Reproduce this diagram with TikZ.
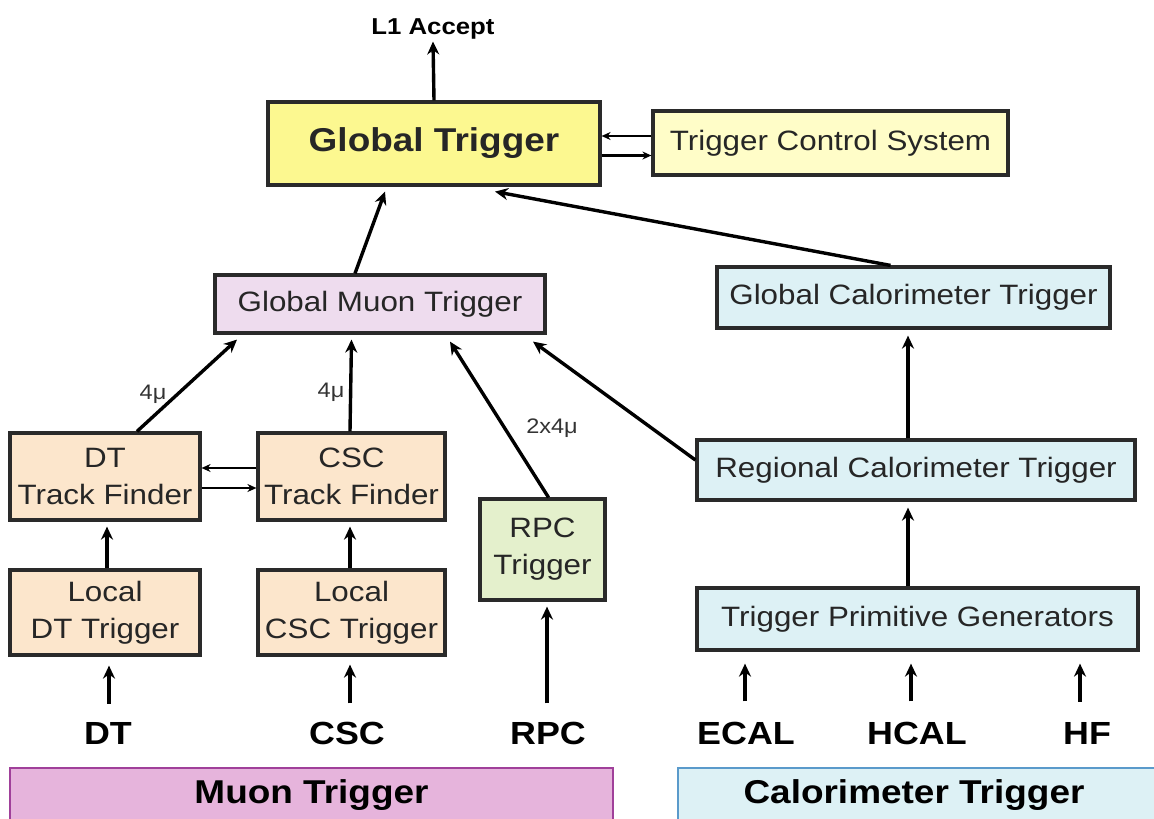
\documentclass[tikz,border=0pt]{standalone}
\usepackage{fontspec}
\setmainfont{Liberation Sans}[FakeStretch=1.12]
\usetikzlibrary{arrows.meta}
\definecolor{boxline}{HTML}{2A2A2A}
\definecolor{gtfill}{HTML}{FCF890}
\definecolor{tcsfill}{HTML}{FFFDC8}
\definecolor{gmtfill}{HTML}{EEDCEE}
\definecolor{calofill}{HTML}{DDF1F5}
\definecolor{dtfill}{HTML}{FCE6CC}
\definecolor{rpcfill}{HTML}{E4F0CC}
\definecolor{muonbar}{HTML}{E6B4DC}
\definecolor{muonedge}{HTML}{A0409A}
\definecolor{caloedge}{HTML}{5A9ACB}
\begin{document}
\begin{tikzpicture}[x=1pt,y=-1pt,
  box/.style={draw=boxline, line width=3.2pt, inner sep=0pt, align=center,
    font=\fontsize{28}{37}\selectfont, text=black!85},
  big/.style={inner sep=0pt, font=\bfseries\fontsize{32}{38}\selectfont},
  lbl/.style={inner sep=0pt, font=\fontsize{21}{24}\selectfont, text=black!80},
  arr/.style={line width=3.4pt, draw=black, -{Stealth[length=13pt,width=12pt]}},
  sarr/.style={line width=2.2pt, draw=black, -{Stealth[length=9pt,width=8pt]}}]
\useasboundingbox (0,0) rectangle (1154,819);
\fill[white] (0,0) rectangle (1154,819);

% boxes
\node[box, fill=gtfill, minimum width=332pt, minimum height=83pt,
  font=\bfseries\fontsize{33}{38}\selectfont] (gt) at (434,143.5) {Global Trigger};
\node[box, fill=tcsfill, minimum width=355pt, minimum height=64pt] (tcs) at (830.5,143) {Trigger Control System};
\node[box, fill=gmtfill, minimum width=330pt, minimum height=58pt] (gmt) at (380,304) {Global Muon Trigger};
\node[box, fill=calofill, minimum width=393pt, minimum height=61pt] (gct) at (913.5,297.5) {Global Calorimeter Trigger};
\node[box, fill=dtfill, minimum width=190pt, minimum height=87pt] (dttf) at (105,476.5) {DT\\Track Finder};
\node[box, fill=dtfill, minimum width=187pt, minimum height=87pt] (csctf) at (351.5,476.5) {CSC\\Track Finder};
\node[box, fill=rpcfill, minimum width=125pt, minimum height=101pt] (rpc) at (542.5,549.5) {RPC\\Trigger};
\node[box, fill=calofill, minimum width=438pt, minimum height=60pt] (rct) at (916,470) {Regional Calorimeter Trigger};
\node[box, fill=calofill, minimum width=441pt, minimum height=62pt] (tpg) at (917.5,619) {Trigger Primitive Generators};
\node[box, fill=dtfill, minimum width=190pt, minimum height=85pt] (ldt) at (105,612.5) {Local\\DT Trigger};
\node[box, fill=dtfill, minimum width=187pt, minimum height=85pt] (lcsc) at (351.5,612.5) {Local\\CSC Trigger};

% bottom bars
\node[draw=muonedge, fill=muonbar, line width=2.5pt, minimum width=603pt, minimum height=54pt,
  inner sep=0pt, font=\bfseries\fontsize{33}{38}\selectfont] (muon) at (311.5,795) {Muon Trigger};
\node[draw=caloedge, fill=calofill, line width=2.5pt, minimum width=482pt, minimum height=54pt,
  inner sep=0pt, font=\bfseries\fontsize{33}{38}\selectfont] (calo) at (919,795) {\hspace*{-10pt}Calorimeter Trigger};

% labels
\node[big, font=\bfseries\fontsize{23}{26}\selectfont] (l1) at (433,29) {L1 Accept};
\node[big] (dt) at (108,733) {DT};
\node[big] (csc) at (347,733) {CSC};
\node[big] (rpcl) at (548,733) {RPC};
\node[big] (ecal) at (746,733) {ECAL};
\node[big] (hcal) at (917,733) {HCAL};
\node[big] (hf) at (1087,733) {HF};

\node[lbl] (m1) at (153,394) {4μ};
\node[lbl] (m2) at (331,392) {4μ};
\node[lbl] (m3) at (552,428) {2x4μ};

% connectors
\draw[arr] (gt.north) -- ([yshift=-2pt]l1.south);
\draw[sarr] ([yshift=7pt]tcs.west) -- ([yshift=7pt]tcs.west -| gt.east);
\draw[sarr] ([yshift=-12pt]gt.east) -- ([yshift=-12pt]gt.east -| tcs.west);
\draw[arr] ([xshift=-25pt]gmt.north) -- ([xshift=-49pt,yshift=-5pt]gt.south);
\draw[arr] ([xshift=-23pt]gct.north) -- ([xshift=61pt,yshift=-5pt]gt.south);
\draw[arr] ([xshift=32pt]dttf.north) -- ([xshift=-143pt,yshift=-5pt]gmt.south);
\draw[arr] ([xshift=-1.5pt]csctf.north) -- ([yshift=-5pt]csctf.north |- gmt.south);
\draw[arr] ([xshift=6pt]rpc.north) -- ([xshift=70pt,yshift=-7pt]gmt.south);
\draw[arr] ([yshift=10pt]rct.west) -- ([xshift=153pt,yshift=-7pt]gmt.south);
\draw[sarr] ([yshift=8.5pt]csctf.west) -- ([yshift=8.5pt]csctf.west -| dttf.east);
\draw[sarr] ([yshift=-11.5pt]dttf.east) -- ([yshift=-11.5pt]dttf.east -| csctf.west);
\draw[arr] ([xshift=2pt]ldt.north) -- ([xshift=2pt,yshift=-5pt]ldt.north |- dttf.south);
\draw[arr] ([xshift=-1.5pt]lcsc.north) -- ([xshift=-1.5pt,yshift=-5pt]lcsc.north |- csctf.south);
\draw[arr] ([xshift=-8pt]rct.north) -- ([xshift=-8pt,yshift=-6pt]rct.north |- gct.south);
\draw[arr] ([xshift=-9.5pt]tpg.north) -- ([xshift=-9.5pt,yshift=-6pt]tpg.north |- rct.south);
\draw[arr] ([xshift=1pt,yshift=18pt]dt.north) -- ([xshift=1pt,yshift=-9pt]dt.north |- ldt.south);
\draw[arr] ([xshift=3pt,yshift=18pt]csc.north) -- ([xshift=3pt,yshift=-8pt]csc.north |- lcsc.south);
\draw[arr] ([xshift=-1pt,yshift=18pt]rpcl.north) -- ([xshift=-1pt,yshift=-5pt]rpcl.north |- rpc.south);
\draw[arr] ([xshift=-1pt,yshift=20pt]ecal.north) -- ([xshift=-1pt,yshift=-12pt]ecal.north |- tpg.south);
\draw[arr] ([xshift=-6pt,yshift=20pt]hcal.north) -- ([xshift=-6pt,yshift=-12pt]hcal.north |- tpg.south);
\draw[arr] ([xshift=-7pt,yshift=20pt]hf.north) -- ([xshift=-7pt,yshift=-12pt]hf.north |- tpg.south);
\end{tikzpicture}
\end{document}
